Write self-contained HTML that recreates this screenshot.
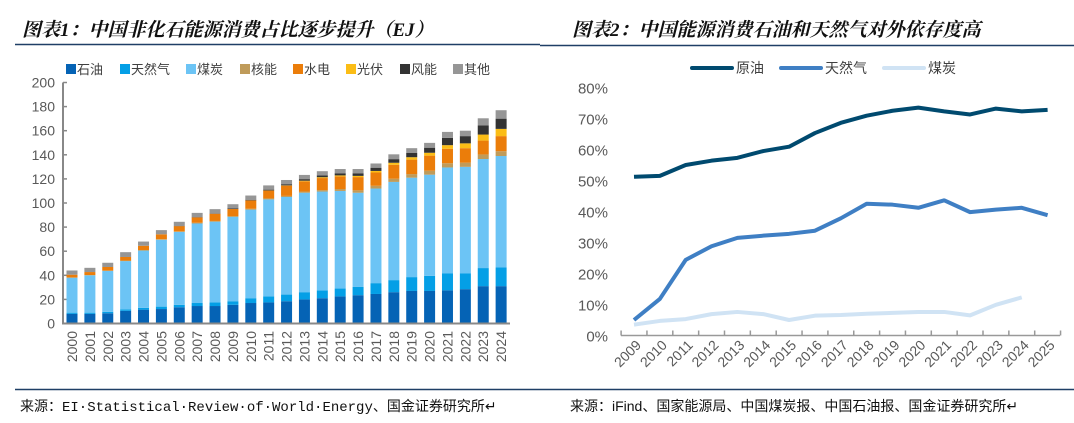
<!DOCTYPE html>
<html><head><meta charset="utf-8"><style>
body{margin:0;width:1074px;height:418px;background:#fff;overflow:hidden;font-family:"Liberation Sans","Noto Sans CJK SC",sans-serif;}
svg text{font-family:"Liberation Sans","Noto Sans CJK SC",sans-serif;}
</style></head><body>
<svg id="s" width="1074" height="418">
<text x="22" y="36" font-size="19" font-weight="bold" font-style="italic" fill="#111" style="font-family:'Liberation Serif','Noto Serif CJK SC',serif">图表1：中国非化石能源消费占比逐步提升（EJ）</text>
<text x="572" y="36" font-size="19" font-weight="bold" font-style="italic" fill="#111" style="font-family:'Liberation Serif','Noto Serif CJK SC',serif">图表2：中国能源消费石油和天然气对外依存度高</text>
<line x1="15" y1="44.5" x2="540" y2="44.5" stroke="#1f3f66" stroke-width="1.5"/>
<line x1="540" y1="45.5" x2="1074" y2="45.5" stroke="#1f3f66" stroke-width="1.5"/>
<line x1="15" y1="389.5" x2="540" y2="389.5" stroke="#1f3f66" stroke-width="1.5"/>
<line x1="540" y1="389.5" x2="1074" y2="389.5" stroke="#1f3f66" stroke-width="1.5"/>
<text x="20" y="411" font-size="14" fill="#111" style="font-family:'Liberation Mono','Noto Sans CJK SC',monospace">来源：EI·Statistical·Review·of·World·Energy、国金证券研究所↵</text>
<text x="570" y="411" font-size="14" fill="#111">来源：iFind、国家能源局、中国煤炭报、中国石油报、国金证券研究所↵</text>
<g id="c1"></g><g id="c2"></g>
</svg>
<script>
const years1=["2000","2001","2002","2003","2004","2005","2006","2007","2008","2009","2010","2011","2012","2013","2014","2015","2016","2017","2018","2019","2020","2021","2022","2023","2024"];
const seriesNames=["石油","天然气","煤炭","核能","水电","光伏","风能","其他"];
const oil=[8,8,8.5,10.5,11.5,12,13.5,14.5,14.5,15.5,17,17.5,18.5,20,21,22.5,23.5,24.5,26,27,27,27.5,28.5,31,31];
const gas=[1,1,1.2,1.3,1.5,2,2,2.5,3,3,4,5,5.5,6,6.5,6.5,7,9,10,11.5,12.5,14,13,15,15.5];
const coal=[29,31,34,40,47.5,55.5,60.5,66,67,70,73.5,80.5,81,82.5,82,81,78,78.5,81.5,82.5,84,88,88.5,90.5,92.5];
const nuclear=[0.2,0.2,0.2,0.4,0.5,0.5,0.5,0.6,0.6,0.7,0.7,0.8,0.9,1,1.2,1.6,2,2.3,2.7,3,3.3,3.5,3.5,3.8,4];
const hydro=[2.3,2.5,3,3,3.5,4,4.3,4.5,6,5.8,7,6.5,8.5,8.5,10,10.5,11,11,11.5,12,12.5,12,12,11.5,12.5];
const solar=[0,0,0,0,0,0,0,0,0,0,0,0.1,0.2,0.5,0.7,0.8,1,1.3,1.7,2,2.4,3,4,5,6];
const wind=[0,0,0,0,0,0,0.1,0.2,0.3,0.5,0.5,0.7,1,1.3,1.5,1.8,2.2,2.7,3,3.5,4.2,6,6,7.5,8.5];
const other=[3.5,3.5,3.5,4,3.5,3.5,3.5,3.5,3.5,3.5,3.5,3.5,3.5,3.5,3.5,3.5,3.5,3.5,4,4,4,5,4.5,6,7];
const yTicks1=[0,20,40,60,80,100,120,140,160,180,200];
const years2=["2009","2010","2011","2012","2013","2014","2015","2016","2017","2018","2019","2020","2021","2022","2023","2024","2025"];
const crude=[51.2,51.5,55,56.4,57.3,59.5,60.9,65.3,68.6,70.9,72.5,73.5,72.3,71.3,73.2,72.3,72.8];
const natgas=[5,11.8,24.4,28.8,31.5,32.2,32.8,33.8,37.8,42.5,42.2,41.2,43.6,39.8,40.6,41.2,38.8];
const coalDep=[3.5,4.7,5.3,6.9,7.6,6.9,5,6.4,6.6,7,7.3,7.6,7.6,6.5,9.9,12.3];
const yTicks2=[0,10,20,30,40,50,60,70,80];

const NS="http://www.w3.org/2000/svg";
function mk(p,t,a){const e=document.createElementNS(NS,t);for(const k in a)e.setAttribute(k,a[k]);p.appendChild(e);return e;}
const g1=document.getElementById('c1');
const x1=i=>72+i*17.88, y1=v=>323.5-v*1.205;
const cols=["#0563b5","#049fe6","#6cc4f5","#bf9b5a","#eb7d0a","#fbbd16","#333333","#969696"];
const stacks=[oil,gas,coal,nuclear,hydro,solar,wind,other];
yTicks1.forEach(t=>{
 const tk=mk(g1,'line',{x1:63,x2:67,y1:y1(t),y2:y1(t),stroke:'#888','stroke-width':1.5});
 
 const tx=mk(g1,'text',{x:55,y:y1(t)+5,'font-size':14,'text-anchor':'end',fill:'#595959'});tx.textContent=t;
 
});
years1.forEach((yr,i)=>{
 let acc=0;
 stacks.forEach((s,k)=>{
  const v=s[i]; if(v<=0)return;
  const r=mk(g1,'rect',{x:x1(i)-5.5,y:y1(acc+v),width:11,height:v*1.205,fill:cols[k]});
  
  acc+=v;
 });
 const tx=mk(g1,'text',{x:0,y:0,'font-size':14,fill:'#595959','text-anchor':'end',transform:`translate(${x1(i)+5},331) rotate(-90)`});tx.textContent=yr;
 
});
let ax=mk(g1,'line',{x1:63,x2:63,y1:y1(200),y2:y1(0),stroke:'#888','stroke-width':2});

ax=mk(g1,'line',{x1:62,x2:510,y1:y1(0),y2:y1(0),stroke:'#888','stroke-width':2});

seriesNames.forEach((n,k)=>{
 const lx=[66,120,186,240,293,346,400,453][k];
 const r=mk(g1,'rect',{x:lx,y:64,width:10,height:10,fill:cols[k]});
 
 const t=mk(g1,'text',{x:lx+11,y:74,'font-size':13,fill:'#404040'});t.textContent=n;
 
});
const g2=document.getElementById('c2');
const x2=i=>634+i*25.85, y2=v=>335.5-v*3.1;
yTicks2.forEach(t=>{
 const tx=mk(g2,'text',{x:608,y:y2(t)+6,'font-size':15,'text-anchor':'end',fill:'#595959'});tx.textContent=t+'%';
 
});
ax=mk(g2,'line',{x1:621,x2:1060,y1:y2(0),y2:y2(0),stroke:'#999','stroke-width':1.5});

for(let i=0;i<=years2.length;i++){
 const tk=mk(g2,'line',{x1:x2(i)-12.9,x2:x2(i)-12.9,y1:y2(0)-5,y2:y2(0),stroke:'#999','stroke-width':1.5});
 
}
years2.forEach((yr,i)=>{
 const tx=mk(g2,'text',{x:0,y:0,'font-size':14,fill:'#595959','text-anchor':'end',transform:`translate(${x2(i)+8},346) rotate(-45)`});tx.textContent=yr;
 
});
const lines=[[crude,'#004a6f','crude-oil-line'],[natgas,'#3f7fc4','natural-gas-line'],[coalDep,'#d0e3f4','coal-line']];
lines.forEach(([d,c,n])=>{
 const p=mk(g2,'polyline',{points:d.map((v,i)=>x2(i)+','+y2(v)).join(' '),fill:'none',stroke:c,'stroke-width':4,'stroke-linejoin':'round'});
 
});
[['原油',692,'#004a6f'],['天然气',781,'#3f7fc4'],['煤炭',884,'#d0e3f4']].forEach(([n,lx,c])=>{
 const l=mk(g2,'line',{x1:lx,x2:lx+40,y1:68,y2:68,stroke:c,'stroke-width':4,'stroke-linecap':'round'});
 
 const t=mk(g2,'text',{x:lx+44,y:73,'font-size':14,fill:'#404040'});t.textContent=n;
 
});
</script>
</body></html>
